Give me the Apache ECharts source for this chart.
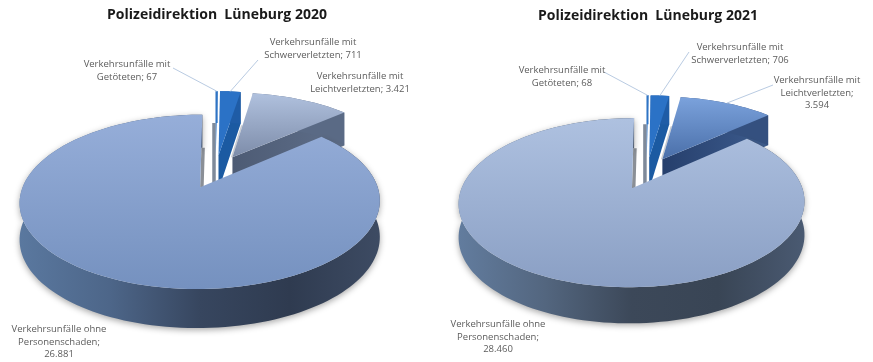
<!DOCTYPE html>
<html>
<head>
<meta charset="utf-8">
<style>html,body{margin:0;padding:0;background:#fff}#chart{width:873px;height:362px}</style>
<script src="https://cdn.jsdelivr.net/npm/echarts@6/dist/echarts.min.js"></script>
</head>
<body>
<div id="chart"></div>
<script>
// Accident counts per category
const categories = [
  ['Verkehrsunfälle mit', 'Getöteten'],
  ['Verkehrsunfälle mit', 'Schwerverletzten'],
  ['Verkehrsunfälle mit', 'Leichtverletzten'],
  ['Verkehrsunfälle ohne', 'Personenschaden']
];
const values2020 = [67, 711, 3421, 26881];
const values2021 = [68, 706, 3594, 28460];
const title2020 = 'Polizeidirektion  Lüneburg 2020';
const title2021 = 'Polizeidirektion  Lüneburg 2021';

const EXPLODE = 0.21;

// Tilted-disc projection and label placement for each pie
const layout2020 = {
  cx: 215.5, cy: 171.5, A: 172, B: 79.5, k: 0.163, depth: 35.5, depthSlope: 3,
  titleX: 217, titleY: 8,
  labels: [[127, 71], [313, 49], [360, 83], [59, 342]],
  leaderFrom: [[173, 68], [258, 60], null, null],
  valueOnOwnLine: [false, false, false, true]
};
const layout2021 = {
  cx: 646.5, cy: 173, A: 165, B: 77, k: 0.165, depth: 32.5, depthSlope: 3,
  titleX: 648, titleY: 9,
  labels: [[562, 77], [740, 54], [817, 93], [498, 337]],
  leaderFrom: [[604, 72], [689, 52], [773, 85], null],
  valueOnOwnLine: [false, false, true, true]
};

const vgrad = (a, b) => ({type: 'linear', x: 0, y: 0, x2: 0, y2: 1, colorStops: [{offset: 0, color: a}, {offset: 1, color: b}]});
const hgrad = stops => ({type: 'linear', x: 0, y: 0, x2: 1, y2: 0,
  colorStops: stops.map((c, i) => ({offset: i / (stops.length - 1), color: c}))});

// "strip" is the sliver of cut face seen next to a slice's straight edge
const style2020 = [
  {top: '#2f74c4', rim: '#2f74c4', strip: {deg: 'from', lean: -3.5, fill: '#7f8a9a', toBase: true}},
  {top: '#2b72c6', rim: '#1f5ca6', endWall: '#1b5aa2'},
  {top: vgrad('#b0c1de', '#7d8ca9'), rim: '#5a6a85', endWall: hgrad(['#4d5b74', '#5f6f8a']), strip: {deg: 'from', lean: -1.5, fill: '#c9ccd0', toBase: false}},
  {top: vgrad('#96aed9', '#7591bf'), rim: hgrad(['#5a789f', '#4d6689', '#37465f', '#2f3b50', '#3d4b63']), strip: {deg: 'to', lean: 3.5, fill: '#8a8f96', toBase: false}, shadow: true}
];
const style2021 = [
  {top: '#2f74c4', rim: '#2f74c4', strip: {deg: 'from', lean: -3.5, fill: '#7f8a9a', toBase: true}},
  {top: '#2b72c6', rim: '#1f5ca6', endWall: '#1b5aa2'},
  {top: vgrad('#7ba2dc', '#4a6fa9'), rim: '#34507f', endWall: hgrad(['#263f6c', '#3d5c8e']), strip: {deg: 'from', lean: -1.5, fill: '#c9ccd0', toBase: false}},
  {top: vgrad('#aec1e0', '#8a9fc4'), rim: hgrad(['#627c9e', '#53667f', '#3c4859', '#394555', '#4a5a72']), strip: {deg: 'to', lean: 3.5, fill: '#8a8f96', toBase: false}, shadow: true}
];

const formatCount = v => String(v).replace(/\B(?=(\d{3})+$)/g, '.');

function pieSeries(values, lay, styles) {
  const total = values.reduce((s, v) => s + v, 0);
  const rad = d => d * Math.PI / 180;

  const spans = [];
  let acc = 0;
  values.forEach(v => {
    const from = acc / total * 360;
    acc += v;
    spans.push([from, acc / total * 360]);
  });

  const project = (u, v) => {
    const w = 1 - lay.k * v;
    return [lay.cx + lay.A * u / w, lay.cy + lay.B * v / w];
  };
  const dropAt = v => lay.depth + lay.depthSlope * v;

  return {
    type: 'custom',
    coordinateSystem: 'none',
    silent: true,
    data: values.map((v, i) => [i, v]),
    renderItem(params, api) {
      const i = api.value(0);
      const value = api.value(1);
      const st = styles[i];
      const [from, to] = spans[i];
      const mid = rad((from + to) / 2);
      const ox = EXPLODE * Math.sin(mid);
      const oy = -EXPLODE * Math.cos(mid);

      const ground = deg => [ox + Math.sin(rad(deg)), oy - Math.cos(rad(deg))];
      const topPt = g => project(g[0], g[1]);
      const basePt = g => {
        const p = project(g[0], g[1]);
        return [p[0], p[1] + dropAt(g[1])];
      };

      const arc = [];
      const steps = Math.max(2, Math.ceil((to - from) / 2));
      for (let s = 0; s <= steps; s++) arc.push(ground(from + (to - from) * s / steps));

      const tip = [ox, oy];
      const children = [];
      const poly = (points, fill, extra) => children.push({
        type: 'polygon',
        shape: {points},
        style: Object.assign({fill}, extra || {})
      });

      // Cut faces and outer wall sit beneath the slice's top face
      if (st.strip) {
        const rim = ground(st.strip.deg === 'from' ? from : to);
        const a = topPt(tip);
        const b = topPt(rim);
        const yStart = b[1] + dropAt(rim[1]);
        const f = (yStart - b[1]) / (a[1] - b[1]);
        const xStart = b[0] + (a[0] - b[0]) * f;
        const lean = st.strip.lean;
        const yEnd = st.strip.toBase ? a[1] + dropAt(tip[1]) : a[1];
        poly([[xStart, yStart], [xStart + lean, yStart], [a[0] + lean, yEnd], [a[0], yEnd]], st.strip.fill);
      }
      if (st.endWall) {
        const g = arc[arc.length - 1];
        poly([topPt(tip), topPt(g), basePt(g), basePt(tip)], st.endWall);
      }
      const wall = arc.map(topPt).concat(arc.slice().reverse().map(basePt));
      poly(wall, st.rim, st.shadow ? {shadowBlur: 6, shadowColor: 'rgba(60,60,60,0.45)', shadowOffsetY: 2} : null);
      poly([topPt(tip)].concat(arc.map(topPt)), st.top);

      // Leader line running from the label to the middle of the slice's rim
      const start = lay.leaderFrom[i];
      if (start) {
        const rimMid = topPt(ground((from + to) / 2));
        children.push({
          type: 'line',
          shape: {x1: start[0], y1: start[1], x2: rimMid[0], y2: rimMid[1]},
          style: {stroke: '#b9cbe2', lineWidth: 1}
        });
      }

      const cat = categories[i];
      const text = lay.valueOnOwnLine[i]
        ? cat[0] + '\n' + cat[1] + ';\n' + formatCount(value)
        : cat[0] + '\n' + cat[1] + '; ' + formatCount(value);
      children.push({
        type: 'text',
        style: {
          x: lay.labels[i][0], y: lay.labels[i][1], text,
          align: 'center', verticalAlign: 'middle',
          font: '9.5px "Open Sans"', lineHeight: 12.5, fill: '#5c5c5c'
        }
      });

      return {type: 'group', children};
    }
  };
}

const chart = echarts.init(document.getElementById('chart'), null, {renderer: 'canvas'});
const titleOf = (text, lay) => ({
  text,
  left: lay.titleX,
  top: lay.titleY,
  padding: 0,
  textAlign: 'center',
  textStyle: {fontFamily: 'Open Sans', fontWeight: 'bold', fontSize: 14, color: '#1a1a1a'}
});
chart.setOption({
  animation: false,
  backgroundColor: '#ffffff',
  title: [titleOf(title2020, layout2020), titleOf(title2021, layout2021)],
  series: [pieSeries(values2020, layout2020, style2020), pieSeries(values2021, layout2021, style2021)]
});
</script>
</body>
</html>
